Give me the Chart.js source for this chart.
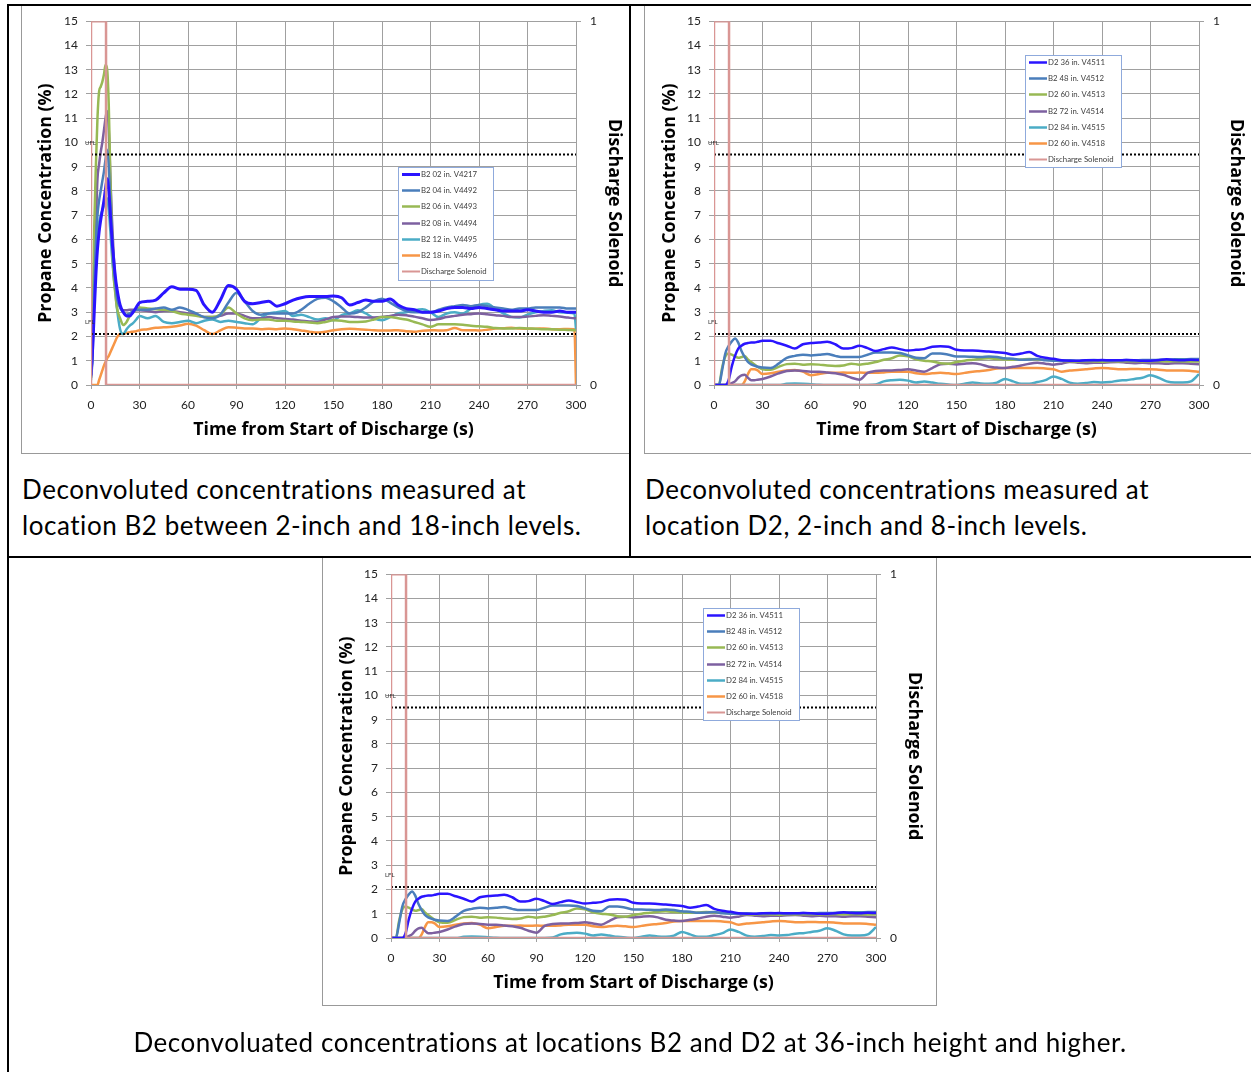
<!DOCTYPE html>
<html><head><meta charset="utf-8">
<script src="https://cdn.jsdelivr.net/npm/chart.js@4.4.1/dist/chart.umd.min.js"></script>
<style>
html,body{margin:0;padding:0;background:#fff;width:1251px;height:1072px;overflow:hidden;position:relative;font-family:Lato,'Open Sans',sans-serif;}
.ln{position:absolute;background:#000;}
.frame{position:absolute;box-sizing:border-box;background:#fff;}
.frame canvas{position:absolute;left:0;top:0;display:block;}
.cap{position:absolute;font-size:26px;line-height:36px;letter-spacing:0.55px;color:#000;white-space:nowrap;}
</style></head><body>

<div class="frame" id="f1" style="left:21px;top:5px;width:610px;height:449px;border-left:1px solid #999;border-bottom:1px solid #999;"><canvas id="c1" width="609" height="448"></canvas></div>
<div class="frame" id="f2" style="left:644px;top:5px;width:610px;height:449px;border-left:1px solid #999;border-bottom:1px solid #999;"><canvas id="c2" width="609" height="448"></canvas></div>
<div class="frame" id="f3" style="left:322px;top:558px;width:615px;height:448px;border:1px solid #999;border-top:none;"><canvas id="c3" width="614" height="447"></canvas></div>

<div class="ln" style="left:7px;top:4px;width:1244px;height:2px;"></div>
<div class="ln" style="left:7px;top:4px;width:2px;height:1068px;"></div>
<div class="ln" style="left:629px;top:4px;width:2px;height:554px;"></div>
<div class="ln" style="left:7px;top:556px;width:1244px;height:2px;"></div>

<div class="cap" style="left:22px;top:471px;">Deconvoluted concentrations measured at<br>location B2 between 2-inch and 18-inch levels.</div>
<div class="cap" style="left:645px;top:471px;">Deconvoluted concentrations measured at<br>location D2, 2-inch and 8-inch levels.</div>
<div class="cap" style="left:0;width:1260px;text-align:center;top:1024px;">Deconvoluated concentrations at locations B2 and D2 at 36-inch height and higher.</div>

<script>
// ---------------- DATA ----------------
const UFL = 9.5;
const LFL = 2.1;
const solenoidTime  = [0, 0, 9.3, 9.3, 300];
const solenoidState = [0, 1, 1, 0, 0];

// Location B2, 2-inch to 18-inch levels
const timeB2 = [0,1,2,3,4,5,6,7,8,9,10,11,12,13,14,15,16,18,20,22,24,26,28,30,
  35,40,45,50,55,60,65,70,75,80,85,90,95,100,105,110,115,120,125,130,135,140,145,150,
  155,160,165,170,175,180,185,190,195,200,205,210,215,220,225,230,235,240,245,250,255,
  260,265,270,275,280,285,290,295,299,300];
const b2_02 = [0.4,1.5,3.0,4.5,5.6,6.3,6.8,7.2,7.6,8.1,8.5,8.0,7.0,6.0,5.2,4.5,4.0,3.3,3.0,2.85,2.85,3.0,3.2,3.4,
  3.45,3.5,3.8,4.05,3.95,3.95,3.9,3.3,3.0,3.5,4.1,3.95,3.45,3.35,3.4,3.45,3.25,3.35,3.5,3.6,3.65,3.65,3.65,3.67,
  3.6,3.3,3.4,3.5,3.45,3.45,3.55,3.3,3.15,3.1,3.0,3.0,3.05,3.15,3.2,3.2,3.15,3.2,3.15,3.1,3.05,
  3.05,3.05,3.1,3.05,3.0,3.0,3.05,3.0,3.0,3.0];
const b2_04 = [0.3,1.2,4.0,5.8,7.0,7.6,8.0,8.4,8.8,9.3,9.7,9.0,7.5,6.2,5.0,4.2,3.6,3.2,3.0,2.9,2.95,3.05,3.1,3.1,
  3.1,3.15,3.2,3.1,3.2,3.1,2.95,2.8,2.75,2.9,3.4,3.8,3.45,3.05,2.9,2.95,2.95,2.95,2.95,3.1,3.35,3.55,3.6,3.45,
  3.2,2.95,3.0,3.2,3.45,3.56,3.4,3.2,3.05,3.0,3.0,3.0,3.1,3.2,3.25,3.3,3.25,3.3,3.25,3.2,3.15,
  3.1,3.15,3.15,3.2,3.2,3.2,3.2,3.15,3.15,3.15];
const b2_06 = [0.5,2.5,6.5,9.0,11.0,12.1,12.3,12.5,12.8,13.2,13.0,11.5,8.5,6.0,4.5,3.8,3.2,2.75,2.47,2.6,2.85,3.0,3.1,3.2,
  3.15,3.12,3.1,3.05,2.95,2.9,2.85,2.8,2.8,2.9,3.2,2.95,2.75,2.67,2.7,2.7,2.65,2.65,2.62,2.6,2.58,2.55,2.6,2.67,
  2.65,2.6,2.6,2.62,2.7,2.8,2.8,2.75,2.7,2.6,2.5,2.4,2.5,2.5,2.5,2.48,2.44,2.42,2.4,2.35,2.33,
  2.33,2.35,2.33,2.32,2.3,2.3,2.28,2.27,2.26,2.26];
const b2_08 = [0.3,1.5,4.0,6.5,8.5,9.1,9.6,10.0,10.5,11.0,11.3,10.5,8.5,6.8,5.4,4.4,3.8,3.2,3.08,3.08,3.1,3.1,3.08,3.08,
  3.05,3.0,3.05,3.05,3.0,2.95,2.9,2.8,2.8,2.85,2.95,2.95,2.85,2.75,2.75,2.8,2.75,2.72,2.7,2.65,2.62,2.6,2.7,2.8,
  2.82,2.82,2.8,2.78,2.78,2.8,2.85,2.9,2.88,2.82,2.75,2.68,2.72,2.8,2.85,2.9,2.92,2.95,2.92,2.88,2.85,
  2.8,2.8,2.82,2.85,2.88,2.85,2.82,2.78,2.75,2.75];
const b2_12 = [0.2,1.5,4.6,5.6,6.3,6.7,7.0,7.2,7.4,7.6,7.7,7.2,6.3,5.3,4.5,3.9,3.2,2.3,2.1,2.3,2.45,2.55,2.7,2.85,
  2.75,2.85,2.6,2.55,2.6,2.65,2.55,2.65,2.7,2.6,2.65,2.6,2.55,2.5,2.75,2.95,3.0,3.05,2.85,2.9,2.8,2.7,2.75,2.67,
  2.88,2.95,3.08,2.95,2.75,2.67,2.8,2.95,3.0,3.08,3.12,3.0,2.8,2.95,3.0,2.95,3.15,3.3,3.35,3.15,2.95,
  2.81,2.78,2.9,3.0,3.05,3.08,3.0,2.98,2.95,2.3];
const b2_18 = [0,0,0,0,0,0.2,0.4,0.6,0.8,0.95,1.1,1.2,1.35,1.5,1.65,1.8,1.95,2.1,2.1,2.15,2.18,2.2,2.22,2.26,
  2.3,2.36,2.38,2.4,2.45,2.53,2.45,2.26,2.1,2.25,2.38,2.36,2.33,2.33,2.3,2.32,2.3,2.33,2.3,2.25,2.2,2.16,2.2,2.26,
  2.3,2.32,2.3,2.28,2.26,2.25,2.25,2.26,2.22,2.2,2.24,2.26,2.25,2.26,2.35,2.26,2.26,2.25,2.28,2.33,2.34,
  2.36,2.33,2.32,2.32,2.33,2.3,2.3,2.31,2.3,0];
const labelsB2 = ['B2 02 in. V4217','B2 04 in. V4492','B2 06 in. V4493','B2 08 in. V4494','B2 12 in. V4495','B2 18 in. V4496'];

// Locations B2 and D2, 36-inch and higher
const timeHigh = [0,3,5,7,9,11,13,15,17,19,21,23,25,27,30,
  35,40,45,50,55,60,65,70,75,80,85,90,95,100,105,110,115,120,125,130,135,140,145,150,
  155,160,165,170,175,180,185,190,195,200,205,210,215,220,225,230,235,240,245,250,255,
  260,265,270,275,280,285,290,295,300];
const d2_36 = [0,0,0,0,0.2,0.77,1.2,1.5,1.62,1.7,1.73,1.75,1.75,1.78,1.82,
  1.82,1.72,1.62,1.5,1.68,1.73,1.75,1.78,1.68,1.5,1.52,1.62,1.52,1.4,1.48,1.55,1.48,1.42,1.45,1.48,1.58,1.6,1.58,1.45,
  1.42,1.42,1.4,1.38,1.35,1.32,1.25,1.3,1.36,1.2,1.12,1.08,1.02,1.0,1.0,1.02,1.02,1.03,1.02,1.02,1.03,
  1.02,1.0,1.0,1.02,1.06,1.03,1.02,1.04,1.03];
const b2_48 = [0,0,0.6,1.3,1.6,1.8,1.92,1.75,1.4,1.15,0.95,0.85,0.8,0.75,0.72,
  0.7,0.88,1.12,1.2,1.25,1.22,1.25,1.28,1.2,1.15,1.15,1.15,1.25,1.34,1.34,1.34,1.32,1.22,1.12,1.1,1.3,1.3,1.25,1.18,
  1.18,1.16,1.15,1.17,1.15,1.1,1.08,1.04,1.05,1.07,1.02,1.0,1.0,1.02,1.0,1.02,1.03,1.02,1.01,1.02,1.03,
  1.02,1.03,1.03,1.04,1.05,1.06,1.06,1.07,1.07];
const d2_60 = [0,0,0.7,1.18,1.3,1.25,1.18,1.12,1.15,1.2,1.05,0.95,0.85,0.75,0.65,
  0.63,0.75,0.86,0.88,0.84,0.86,0.84,0.8,0.78,0.8,0.88,0.84,0.88,0.95,1.04,1.1,1.22,1.18,1.06,1.0,0.97,0.9,0.88,0.95,
  1.0,1.04,1.08,1.1,1.07,1.05,1.04,1.05,1.07,1.05,1.04,1.02,1.0,0.98,0.97,0.98,0.97,0.96,0.98,0.97,0.98,
  0.98,0.97,0.98,0.98,0.97,0.98,0.97,0.97,0.97];
const b2_72 = [0,0,0,0,0.02,0.08,0.15,0.3,0.4,0.42,0.3,0.2,0.2,0.22,0.25,
  0.35,0.48,0.58,0.6,0.58,0.55,0.55,0.52,0.48,0.42,0.3,0.22,0.5,0.58,0.6,0.6,0.62,0.65,0.6,0.55,0.7,0.85,0.88,0.85,
  0.88,0.9,0.85,0.75,0.72,0.7,0.75,0.8,0.88,0.92,0.88,0.84,0.88,0.95,0.92,0.9,0.92,0.92,0.94,0.95,0.92,
  0.9,0.92,0.9,0.9,0.88,0.9,0.9,0.88,0.86];
const d2_84 = [0,0,0,0,0,0,0,0,0,0,0,0,0,0,0,
  0,0,0.05,0.06,0.05,0.03,0.01,0,0,0,0,0,0,0.02,0.15,0.2,0.22,0.18,0.1,0.14,0.1,0.05,0.02,0,
  0.05,0.1,0.06,0.05,0.1,0.25,0.15,0.05,0.05,0.12,0.2,0.35,0.25,0.1,0.05,0.08,0.12,0.1,0.12,0.18,0.2,
  0.25,0.3,0.4,0.3,0.15,0.1,0.1,0.15,0.45];
const d2_60b = [0,0,0,0,0,0,0,0,0,0.15,0.45,0.65,0.65,0.6,0.45,
  0.48,0.55,0.6,0.62,0.55,0.4,0.45,0.5,0.5,0.52,0.5,0.52,0.5,0.5,0.52,0.55,0.55,0.55,0.48,0.45,0.48,0.5,0.48,0.45,
  0.5,0.55,0.58,0.62,0.68,0.7,0.7,0.7,0.7,0.7,0.68,0.65,0.55,0.6,0.62,0.65,0.68,0.7,0.68,0.65,0.65,
  0.66,0.65,0.65,0.63,0.6,0.6,0.6,0.58,0.55];
const labelsHigh = ['D2 36 in. V4511','B2 48 in. V4512','D2 60 in. V4513','B2 72 in. V4514','D2 84 in. V4515','D2 60 in. V4518'];
const solenoidLabel = 'Discharge Solenoid';

// ---------------- STYLE ----------------
const seriesColors = ['#2a14ff','#4a7ebb','#98b954','#7d60a0','#4bacc6','#f79646'];
const solenoidColor = '#d99694';
const gridColor = '#a0a0a0';
const FONT = 'Lato';
const TITLE_FONT = 'Open Sans';

const toXY = (t, v) => t.map((x, i) => ({x, y: v[i]}));

const overlay = {
  id: 'overlay',
  afterDatasetsDraw(chart, args, opts) {
    const ctx = chart.ctx, ys = chart.scales.y, a = chart.chartArea;
    ctx.save();
    ctx.font = '6px ' + FONT; ctx.fillStyle = '#333'; ctx.textBaseline = 'middle'; ctx.textAlign = 'left';
    ctx.fillText('UFL', a.left - 6, ys.getPixelForValue(UFL) - 12);
    ctx.fillText('LFL', a.left - 6, ys.getPixelForValue(LFL) - 12);
    const b = opts.box;
    ctx.fillStyle = '#fff'; ctx.fillRect(b.x, b.y, b.w, b.h);
    ctx.strokeStyle = '#8faadc'; ctx.lineWidth = 1; ctx.strokeRect(b.x + 0.5, b.y + 0.5, b.w, b.h);
    let i = 0;
    chart.data.datasets.forEach(ds => {
      if (!ds.inLegend) return;
      const yy = Math.round(b.y + 7 + i * 16.2) + 0.5;
      ctx.strokeStyle = ds.borderColor; ctx.lineWidth = ds.legendWidth;
      ctx.beginPath(); ctx.moveTo(b.x + 4, yy); ctx.lineTo(b.x + 22, yy); ctx.stroke();
      ctx.fillStyle = '#404040'; ctx.font = '7.8px ' + FONT;
      ctx.fillText(ds.label, b.x + 23, yy);
      i++;
    });
    ctx.restore();
  }
};

function makeChart(id, times, series, labels, cfg) {
  const datasets = [];
  datasets.push({label: solenoidLabel, data: toXY(solenoidTime, solenoidState), yAxisID: 'y2',
    borderColor: solenoidColor, borderWidth: 2.5, legendWidth: 2, inLegend: true, order: 0,
    pointRadius: 0, tension: 0});
  series.forEach((s, i) => {
    datasets.push({label: labels[i], data: toXY(times, s), yAxisID: 'y',
      borderColor: seriesColors[i], borderWidth: cfg.widths[i], legendWidth: cfg.widths[i],
      inLegend: true, order: 2 + i, pointRadius: 0, tension: 0.25, cubicInterpolationMode: 'monotone'});
  });
  [UFL, LFL].forEach(v => datasets.push({label: 'lim', data: [{x: 0, y: v}, {x: 300, y: v}], yAxisID: 'y',
    borderColor: '#000', borderWidth: 2, borderDash: [2, 2], inLegend: false, order: 1, pointRadius: 0}));
  const ordered = datasets.slice(1, 1 + series.length).concat([datasets[0]], datasets.slice(1 + series.length));

  const tickFont = {family: FONT, size: 12};
  const titleFont = {family: TITLE_FONT, size: 17.8, weight: 'bold'};
  new Chart(document.getElementById(id), {
    type: 'line',
    data: {datasets: ordered},
    options: {
      responsive: false, animation: false, devicePixelRatio: 1,
      layout: {padding: {top: cfg.top, left: 0, right: 0, bottom: 0}},
      plugins: {legend: {display: false}, tooltip: {enabled: false}, overlay: {box: cfg.box}},
      scales: {
        x: {type: 'linear', min: 0, max: 300,
          ticks: {stepSize: 30, font: tickFont, color: '#222', padding: 9, maxRotation: 0},
          grid: {color: gridColor, tickLength: 4},
          border: {color: gridColor},
          title: {display: true, text: 'Time from Start of Discharge (s)', font: titleFont, color: '#000',
            padding: {top: 0, bottom: cfg.xtPad}},
          afterFit: s => { s.height = cfg.xh; }},
        y: {type: 'linear', position: 'left', min: 0, max: 15,
          ticks: {stepSize: 1, font: tickFont, color: '#222', padding: 8},
          grid: {color: gridColor, tickLength: 5},
          border: {color: gridColor},
          title: {display: true, text: 'Propane Concentration (%)', font: titleFont, color: '#000',
            padding: {top: cfg.ytPad, bottom: 0}},
          afterFit: s => { s.width = cfg.yw; }},
        y2: {type: 'linear', position: 'right', min: 0, max: 1,
          ticks: {stepSize: 1, font: tickFont, color: '#222', padding: 9},
          grid: {drawOnChartArea: false, color: gridColor, tickLength: 5},
          border: {color: gridColor},
          title: {display: true, text: 'Discharge Solenoid', font: titleFont, color: '#000',
            padding: {top: cfg.y2tPad, bottom: 0}},
          afterFit: s => { s.width = cfg.y2w; }}
      }
    },
    plugins: [overlay]
  });
}

makeChart('c1', timeB2, [b2_02, b2_04, b2_06, b2_08, b2_12, b2_18], labelsB2,
  {top: 14, yw: 69, y2w: 55, xh: 68, xtPad: 12, ytPad: 13, y2tPad: 6,
   widths: [3, 2.5, 2.5, 2.5, 2.5, 2.5], box: {x: 376, y: 162, w: 95, h: 113}});
makeChart('c2', timeHigh, [d2_36, b2_48, d2_60, b2_72, d2_84, d2_60b], labelsHigh,
  {top: 14, yw: 69, y2w: 55, xh: 68, xtPad: 12, ytPad: 14, y2tPad: 7,
   widths: [2.5, 2.5, 2.5, 2.5, 2.5, 2.5], box: {x: 380, y: 50, w: 96, h: 112}});
makeChart('c3', timeHigh, [d2_36, b2_48, d2_60, b2_72, d2_84, d2_60b], labelsHigh,
  {top: 15, yw: 68, y2w: 61, xh: 67, xtPad: 11, ytPad: 13, y2tPad: 12,
   widths: [2.5, 2.5, 2.5, 2.5, 2.5, 2.5], box: {x: 380, y: 50, w: 96, h: 112}});
</script>
</body></html>
